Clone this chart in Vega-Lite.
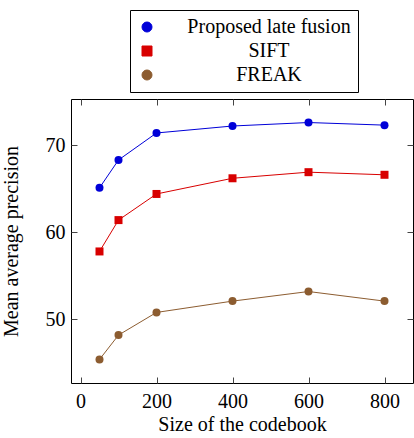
{
  "$schema": "https://vega.github.io/schema/vega-lite/v6.json",
  "width": 342,
  "height": 284,
  "autosize": "none",
  "padding": {"left": 71, "top": 99, "right": 1, "bottom": 55},
  "background": "white",
  "config": {
    "font": "Liberation Serif",
    "view": {"stroke": "black", "strokeWidth": 1},
    "axis": {
      "domain": false,
      "grid": false,
      "labelFont": "Liberation Serif",
      "titleFont": "Liberation Serif",
      "labelFontSize": 20,
      "titleFontSize": 20,
      "titleFontWeight": "normal",
      "labelColor": "black",
      "titleColor": "black",
      "tickColor": "#444444",
      "tickWidth": 1,
      "tickSize": -6
    },
    "legend": {
      "labelFont": "Liberation Serif",
      "labelFontSize": 20,
      "labelColor": "black",
      "labelLimit": 400
    }
  },
  "data": {
    "values": [
      {"size": 50, "map": 65.1, "series": "Proposed late fusion"},
      {"size": 100, "map": 68.3, "series": "Proposed late fusion"},
      {"size": 200, "map": 71.4, "series": "Proposed late fusion"},
      {"size": 400, "map": 72.2, "series": "Proposed late fusion"},
      {"size": 600, "map": 72.6, "series": "Proposed late fusion"},
      {"size": 800, "map": 72.3, "series": "Proposed late fusion"},
      {"size": 50, "map": 57.8, "series": "SIFT"},
      {"size": 100, "map": 61.4, "series": "SIFT"},
      {"size": 200, "map": 64.4, "series": "SIFT"},
      {"size": 400, "map": 66.2, "series": "SIFT"},
      {"size": 600, "map": 66.9, "series": "SIFT"},
      {"size": 800, "map": 66.6, "series": "SIFT"},
      {"size": 50, "map": 45.4, "series": "FREAK"},
      {"size": 100, "map": 48.2, "series": "FREAK"},
      {"size": 200, "map": 50.8, "series": "FREAK"},
      {"size": 400, "map": 52.1, "series": "FREAK"},
      {"size": 600, "map": 53.2, "series": "FREAK"},
      {"size": 800, "map": 52.1, "series": "FREAK"}
    ]
  },
  "encoding": {
    "color": {
      "field": "series",
      "type": "nominal",
      "scale": {"domain": ["Proposed late fusion", "SIFT", "FREAK"], "range": ["#0000d8", "#d80000", "#8c5c30"]},
      "legend": {
        "title": null,
        "orient": "none",
        "legendX": 59,
        "legendY": -89,
        "direction": "vertical",
        "strokeColor": "black",
        "fillColor": "white",
        "padding": 7,
        "rowPadding": 4,
        "symbolSize": 100,
        "labelAlign": "center",
        "labelOffset": 112,
        "encode": {
          "symbols": {
            "update": {
              "size": {"value": 100},
              "fill": {"scale": "color", "field": "value"},
              "stroke": {"scale": "color", "field": "value"},
              "strokeWidth": {"value": 1},
              "opacity": {"value": 1}
            }
          }
        }
      }
    }
  },
  "resolve": {"axis": {"x": "independent", "y": "independent"}},
  "layer": [
    {
      "mark": {"type": "line", "strokeWidth": 1},
      "encoding": {
        "x": {
          "field": "size",
          "type": "quantitative",
          "scale": {"domain": [-25, 875], "nice": false, "zero": false},
          "axis": {"orient": "bottom", "values": [0, 200, 400, 600, 800], "title": "Size of the codebook", "labelPadding": 14, "titlePadding": 3}
        },
        "y": {
          "field": "map",
          "type": "quantitative",
          "scale": {"domain": [42.7, 75.3], "nice": false, "zero": false},
          "axis": {"orient": "left", "values": [50, 60, 70], "title": "Mean average precision", "labelPadding": 12, "titlePadding": 24}
        }
      }
    },
    {
      "mark": {"type": "point", "filled": true, "size": 64, "strokeWidth": 0, "opacity": 1},
      "encoding": {
        "x": {
          "field": "size",
          "type": "quantitative",
          "axis": {"orient": "top", "values": [0, 200, 400, 600, 800], "labels": false, "title": null}
        },
        "y": {
          "field": "map",
          "type": "quantitative",
          "axis": {"orient": "right", "values": [50, 60, 70], "labels": false, "title": null}
        },
        "shape": {
          "field": "series",
          "type": "nominal",
          "scale": {"domain": ["Proposed late fusion", "SIFT", "FREAK"], "range": ["circle", "square", "circle"]},
          "legend": null
        }
      }
    }
  ]
}
